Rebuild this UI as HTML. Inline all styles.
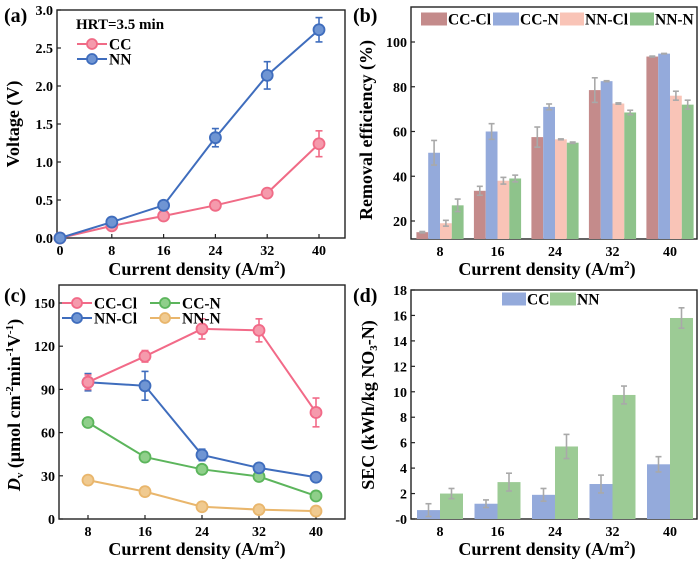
<!DOCTYPE html>
<html><head><meta charset="utf-8"><style>
html,body{margin:0;padding:0;background:#fff;}
svg{display:block;font-family:"Liberation Serif",serif;font-weight:bold;}
</style></head><body>
<svg id="fig" width="700" height="561" viewBox="0 0 700 561" xmlns="http://www.w3.org/2000/svg"></svg>
<script>
// ---- data ----
const xA = [0, 8, 16, 24, 32, 40];
const aCC = [0, 0.16, 0.29, 0.43, 0.59, 1.24];
const aCCerr = [0, 0.02, 0.02, 0.03, 0.03, 0.17];
const aNN = [0, 0.21, 0.43, 1.32, 2.14, 2.74];
const aNNerr = [0, 0.03, 0.03, 0.12, 0.18, 0.16];
const aTicksY = ["0.0","0.5","1.0","1.5","2.0","2.5","3.0"];
const cats = ["8", "16", "24", "32", "40"];
const bCCCl = [15, 33.5, 57.5, 78.5, 93.5];
const bCCClErr = [0.3, 2, 4.5, 5.5, 0.2];
const bCCN = [50.5, 60, 71, 82.5, 94.8];
const bCCNErr = [5.5, 3.5, 1.3, 0.2, 0.1];
const bNNCl = [19, 38, 56.5, 72.5, 76];
const bNNClErr = [1.3, 1.5, 0.2, 0.3, 2];
const bNNN = [27, 39, 55, 68.5, 72];
const bNNNErr = [2.8, 1.5, 0.3, 1, 2];
const bTicksY = [20, 40, 60, 80, 100];
const cCCCl = [95, 113, 132, 131, 74];
const cCCClErr = [5, 4, 7, 8, 10];
const cNNCl = [95, 92.5, 44.5, 35.5, 29];
const cNNClErr = [6, 10, 4, 2, 1];
const cCCN = [67, 43, 34.5, 29.5, 16];
const cCCNErr = [2, 1, 1, 1, 1];
const cNNN = [27, 19, 8.5, 6.5, 5.5];
const cNNNErr = [1, 1, 1, 1, 1];
const cTicksY = [0, 30, 60, 90, 120, 150];
const dCC = [0.7, 1.2, 1.9, 2.75, 4.3];
const dCCErr = [0.5, 0.3, 0.5, 0.7, 0.6];
const dNN = [2.0, 2.9, 5.7, 9.75, 15.8];
const dNNErr = [0.4, 0.7, 0.95, 0.7, 0.8];
const dTicksY = [0, 2, 4, 6, 8, 10, 12, 14, 16, 18];

const NS = "http://www.w3.org/2000/svg";
const svg = document.getElementById('fig');
function el(tag, attrs, parent, text) {
  const e = document.createElementNS(NS, tag);
  for (const k in attrs) e.setAttribute(k, attrs[k]);
  if (text !== undefined) e.textContent = text;
  (parent || svg).appendChild(e);
  return e;
}
function scale(d0, d1, r0, r1) { return v => r0 + (v - d0) / (d1 - d0) * (r1 - r0); }

function frame(g, L, R, T, B, name) {
  const r = el('rect', {x: L, y: T, width: R - L, height: B - T, fill: 'none', stroke: '#222', 'stroke-width': 1.4}, g);
  
  
}
function yTicks(g, ticks, sy, L, labels, name) {
  ticks.forEach((t, i) => {
    el('line', {x1: L, x2: L + 4, y1: sy(t), y2: sy(t), stroke: '#222', 'stroke-width': 1.2}, g);
    const tx = el('text', {x: L - 4, y: sy(t) + 5, 'text-anchor': 'end', 'font-size': 14}, g, labels ? labels[i] : t);
    
    
  });
}
function xTicks(g, vals, labels, sx, B, name) {
  vals.forEach((v, i) => {
    el('line', {x1: sx(v), x2: sx(v), y1: B, y2: B - 4, stroke: '#222', 'stroke-width': 1.2}, g);
    const tx = el('text', {x: sx(v), y: B + 17, 'text-anchor': 'middle', 'font-size': 14}, g, labels[i]);
    
    
  });
}
function xTitle(g, cx, y, name) {
  const t = el('text', {x: cx, y: y, 'text-anchor': 'middle', 'font-size': 18}, g);
  
  
  t.innerHTML = 'Current density (A/m<tspan font-size="11" dy="-7">2</tspan><tspan dy="7">)</tspan>';
}
function errBar(g, x, y1, y2, color, w) {
  el('line', {x1: x, x2: x, y1: y1, y2: y2, stroke: color, 'stroke-width': 1.6}, g);
  el('line', {x1: x - w, x2: x + w, y1: y1, y2: y1, stroke: color, 'stroke-width': 1.6}, g);
  el('line', {x1: x - w, x2: x + w, y1: y2, y2: y2, stroke: color, 'stroke-width': 1.6}, g);
}
function lineSeries(g, xs, ys, errs, sx, sy, color, fill, name) {
  const pts = xs.map((x, i) => sx(x) + ',' + sy(ys[i])).join(' ');
  const pl = el('polyline', {points: pts, fill: 'none', stroke: color, 'stroke-width': 2}, g);
  
  
  xs.forEach((x, i) => {
    if (errs[i] > 0) errBar(g, sx(x), sy(ys[i] + errs[i]), sy(ys[i] - errs[i]), color, 3.5);
    const c = el('circle', {cx: sx(x), cy: sy(ys[i]), r: 5.5, fill: fill, stroke: color, 'stroke-width': 1.8}, g);
    
    
  });
}
function legendLine(g, x, y, color, fill, label, name) {
  const lg = el('g', {}, g);
  
  
  el('line', {x1: x, x2: x + 30, y1: y, y2: y, stroke: color, 'stroke-width': 2}, lg);
  el('circle', {cx: x + 15, cy: y, r: 5, fill: fill, stroke: color, 'stroke-width': 1.8}, lg);
  el('text', {x: x + 32, y: y + 5.5, 'font-size': 15.5}, lg, label);
}
function legendBar(g, x, y, color, label, name, w) {
  const lg = el('g', {}, g);
  
  
  el('rect', {x: x, y: y - 6.5, width: w, height: 13, fill: color}, lg);
  el('text', {x: x + w + 1, y: y + 5.5, 'font-size': 15.5}, lg, label);
}
function panelLabel(g, x, y, t) {
  const p = el('text', {x: x, y: y, 'font-size': 20}, g, t);
  
  
}

// ---- panel a ----
(function () {
  const g = el('g', {});  
  const L = 57, R = 345, T = 10, B = 238;
  const sx = scale(0, 40, 60, 319), sy = scale(0, 3, B, T);
  frame(g, L, R, T, B, 'panel-a');
  yTicks(g, aTicksY.map(Number), sy, L, aTicksY, 'panel-a');
  xTicks(g, xA, xA.map(String), sx, B, 'panel-a');
  xTitle(g, 197, 275, 'panel-a');
  const yt = el('text', {transform: 'translate(19,124) rotate(-90)', 'text-anchor': 'middle', 'font-size': 18}, g, 'Voltage (V)');
   
  panelLabel(g, 4, 22, '(a)');
  lineSeries(g, xA, aCC, aCCerr, sx, sy, '#f06b86', '#f59aac', 'cc');
  lineSeries(g, xA, aNN, aNNerr, sx, sy, '#3f6dbd', '#6f95d3', 'nn');
  el('text', {x: 76, y: 29, 'font-size': 15}, g, 'HRT=3.5 min');
  legendLine(g, 77, 44, '#f06b86', '#f59aac', 'CC', 'cc');
  legendLine(g, 77, 59, '#3f6dbd', '#6f95d3', 'NN', 'nn');
})();

// ---- panel b ----
(function () {
  const g = el('g', {});  
  const L = 411, R = 697, T = 7, B = 239;
  const sy = scale(20, 100, 221, 42);
  const cx = i => 440 + i * 57.5;
  frame(g, L, R, T, B, 'panel-b');
  yTicks(g, bTicksY, sy, L, null, 'panel-b');
  xTicks(g, cats.map((c, i) => i), cats, cx, B, 'panel-b');
  xTitle(g, 547, 275, 'panel-b');
  const yt = el('text', {transform: 'translate(372,130) rotate(-90)', 'text-anchor': 'middle', 'font-size': 18}, g, 'Removal efficiency (%)');
   
  panelLabel(g, 353, 22, '(b)');
  const series = [[bCCCl, bCCClErr, '#c48b8b', 'cc-cl'], [bCCN, bCCNErr, '#94aadb', 'cc-n'], [bNNCl, bNNClErr, '#f9c4b7', 'nn-cl'], [bNNN, bNNNErr, '#8ec38b', 'nn-n']];
  const bw = 11.8;
  series.forEach((s, k) => {
    s[0].forEach((v, i) => {
      const x = cx(i) - 2 * bw + k * bw;
      const r = el('rect', {x: x, y: sy(v), width: bw, height: B - sy(v), fill: s[2]}, g);
      
      
      errBar(g, x + bw / 2, sy(v + s[1][i]), sy(v - s[1][i]), '#a9a9a9', 3);
    });
  });
  legendBar(g, 421, 19, '#c48b8b', 'CC-Cl', 'cc-cl', 26);
  legendBar(g, 493, 19, '#94aadb', 'CC-N', 'cc-n', 26);
  legendBar(g, 560, 19, '#f9c4b7', 'NN-Cl', 'nn-cl', 24);
  legendBar(g, 630, 19, '#8ec38b', 'NN-N', 'nn-n', 24);
})();

// ---- panel c ----
(function () {
  const g = el('g', {});  
  const L = 59, R = 345, T = 285, B = 519;
  const sy = scale(0, 150, B, 303);
  const cx = i => 88 + i * 57;
  frame(g, L, R, T, B, 'panel-c');
  yTicks(g, cTicksY, sy, L, null, 'panel-c');
  xTicks(g, cats.map((c, i) => i), cats, cx, B, 'panel-c');
  xTitle(g, 197, 555, 'panel-c');
  const yt = el('text', {transform: 'translate(20,405) rotate(-90)', 'text-anchor': 'middle', 'font-size': 18}, g);
   
  yt.innerHTML = '<tspan font-style="italic">D</tspan><tspan font-size="11" dy="3">v</tspan><tspan dy="-3"> (μmol cm</tspan><tspan font-size="11" dy="-7">-2</tspan><tspan dy="7">min</tspan><tspan font-size="11" dy="-7">-1</tspan><tspan dy="7">V</tspan><tspan font-size="11" dy="-7">-1</tspan><tspan dy="7">)</tspan>';
  panelLabel(g, 4, 302, '(c)');
  const idx = cats.map((c, i) => i);
  lineSeries(g, idx, cCCN, cCCNErr, cx, sy, '#5cb55c', '#8fcf8a', 'cc-n');
  lineSeries(g, idx, cNNN, cNNNErr, cx, sy, '#e9b66c', '#f0ca90', 'nn-n');
  lineSeries(g, idx, cNNCl, cNNClErr, cx, sy, '#3f6dbd', '#6f95d3', 'nn-cl');
  lineSeries(g, idx, cCCCl, cCCClErr, cx, sy, '#f26a88', '#f59aac', 'cc-cl');
  legendLine(g, 62, 303, '#f26a88', '#f59aac', 'CC-Cl', 'cc-cl');
  legendLine(g, 150, 303, '#5cb55c', '#8fcf8a', 'CC-N', 'cc-n');
  legendLine(g, 62, 318, '#3f6dbd', '#6f95d3', 'NN-Cl', 'nn-cl');
  legendLine(g, 150, 318, '#e9b66c', '#f0ca90', 'NN-N', 'nn-n');
})();

// ---- panel d ----
(function () {
  const g = el('g', {});  
  const L = 411, R = 697, T = 290, B = 519;
  const sy = scale(0, 18, B, T);
  const cx = i => 440 + i * 57.5;
  frame(g, L, R, T, B, 'panel-d');
  yTicks(g, dTicksY, sy, L, dTicksY.map(v => v === 0 ? '-0' : String(v)), 'panel-d');
  xTicks(g, cats.map((c, i) => i), cats, cx, B, 'panel-d');
  xTitle(g, 547, 555, 'panel-d');
  const yt = el('text', {transform: 'translate(374,405) rotate(-90)', 'text-anchor': 'middle', 'font-size': 18}, g);
   
  yt.innerHTML = 'SEC (kWh/kg NO<tspan font-size="11" dy="3">3</tspan><tspan dy="-3">-N)</tspan>';
  panelLabel(g, 353, 302, '(d)');
  const bw = 23;
  [[dCC, dCCErr, '#94aadb', 'cc'], [dNN, dNNErr, '#9ccb95', 'nn']].forEach((s, k) => {
    s[0].forEach((v, i) => {
      const x = cx(i) - bw + k * bw;
      const r = el('rect', {x: x, y: sy(v), width: bw, height: B - sy(v), fill: s[2]}, g);
      
      
      errBar(g, x + bw / 2, sy(v + s[1][i]), sy(v - s[1][i]), '#a9a9a9', 3);
    });
  });
  legendBar(g, 502, 299, '#94aadb', 'CC', 'cc', 24);
  legendBar(g, 550, 299, '#9ccb95', 'NN', 'nn', 26);
})();
</script>
</body></html>
